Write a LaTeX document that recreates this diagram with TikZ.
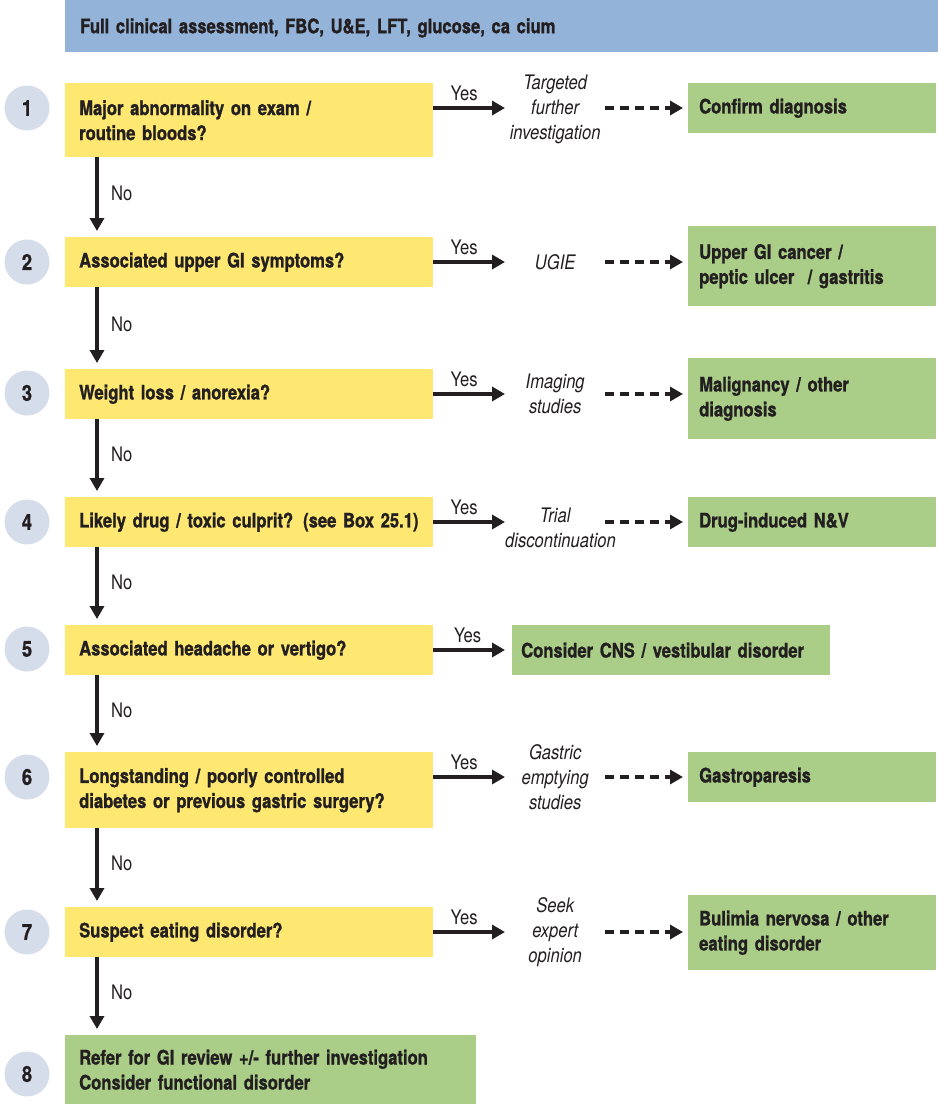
\documentclass[tikz,border=0pt]{standalone}
\usepackage{fontspec}
\setmainfont{TeX Gyre Heros}[FakeStretch=0.83, BoldFeatures={FakeBold=1.2}]
\usetikzlibrary{arrows.meta, positioning}
\definecolor{qyellow}{HTML}{FEE872}
\definecolor{rgreen}{HTML}{AACE88}
\definecolor{hblue}{HTML}{93B3D9}
\definecolor{stepgrey}{HTML}{D5DCEA}
\definecolor{ink}{HTML}{231F20}
\tikzset{
    question/.style={
        rectangle, fill=qyellow, anchor=north west,
        minimum width=368pt, minimum height=50pt,
        text width=340pt, inner xsep=14pt, inner ysep=0pt,
        font=\fontsize{20}{25}\selectfont\bfseries, align=left, text=ink
    },
    result/.style={
        rectangle, fill=rgreen, anchor=north west,
        minimum width=248pt, minimum height=50pt,
        text width=226pt, inner xsep=11pt, inner ysep=0pt,
        font=\fontsize{20}{25}\selectfont\bfseries, align=left, text=ink
    },
    header/.style={
        rectangle, fill=hblue, anchor=north west,
        minimum width=873pt, minimum height=52pt,
        text width=843pt, inner xsep=15pt, inner ysep=0pt,
        text height=15pt, text depth=1pt,
        font=\fontsize{20}{25}\selectfont\bfseries, align=left, text=ink
    },
    act/.style={
        anchor=west, text width=100pt, inner sep=0pt,
        font=\fontsize{20}{25}\selectfont\itshape, align=center, text=ink
    },
    stepnum/.style={
        circle, fill=stepgrey, minimum size=45pt, inner sep=0pt,
        font=\fontsize{22}{24}\selectfont\bfseries, text=ink
    },
    yesarrow/.style={-{Triangle[length=13pt, width=14pt]}, line width=3.4pt, draw=ink},
    noarrow/.style={yesarrow, shorten >=6pt},
    dasharrow/.style={yesarrow, dash pattern=on 9pt off 6pt, shorten >=5pt},
    yeslabel/.style={above, midway, xshift=-5pt, inner sep=6pt, font=\fontsize{20}{22}\selectfont, text=ink},
    nolabel/.style={right, pos=0.45, xshift=9pt, font=\fontsize{20}{22}\selectfont, text=ink}
}

\begin{document}
\begin{tikzpicture}[x=1pt, y=-1pt]
    \useasboundingbox (0,0) rectangle (938,1104);

    % top assessment bar
    \node[header] (h) at (65,0) {Full clinical assessment, FBC, U\&E, LFT, glucose, ca cium};

    % question column
    \node[question, minimum height=74pt] (q1) at (65,83) {Major abnormality on exam /\\routine bloods?};
    \node[question] (q2) at (65,237) {Associated upper GI symptoms?};
    \node[question] (q3) at (65,369) {Weight loss / anorexia?};
    \node[question] (q4) at (65,497) {Likely drug / toxic culprit? (see Box 25.1)};
    \node[question] (q5) at (65,625) {Associated headache or vertigo?};
    \node[question, minimum height=76pt] (q6) at (65,752) {Longstanding / poorly controlled\\diabetes or previous gastric surgery?};
    \node[question] (q7) at (65,907) {Suspect eating disorder?};
    \node[question, fill=rgreen, minimum width=411pt, text width=383pt, minimum height=69pt] (q8) at (65,1035)
        {Refer for GI review +/- further investigation\\Consider functional disorder};

    % step numbers
    \node[stepnum] (n1) at (27,108) {1};
    \node[stepnum] (n2) at (27,262) {2};
    \node[stepnum] (n3) at (27,393) {3};
    \node[stepnum] (n4) at (27,522) {4};
    \node[stepnum] (n5) at (27,649) {5};
    \node[stepnum] (n6) at (27,777) {6};
    \node[stepnum] (n7) at (27,932) {7};
    \node[stepnum] (n8) at (27,1074) {8};

    % row levels
    \coordinate (y1) at (0,108);
    \coordinate (y2) at (0,262);
    \coordinate (y3) at (0,394);
    \coordinate (y4) at (0,522);
    \coordinate (y5) at (0,650);
    \coordinate (y6) at (0,777);
    \coordinate (y7) at (0,932);

    % investigations
    \node[act] (a1) at (505,109) {Targeted\\further\\investigation};
    \node[act] (a2) at (505,262) {UGIE};
    \node[act] (a3) at (505,394) {Imaging\\studies};
    \node[act] (a4) at (505,528) {Trial\\discontinuation};
    \node[act] (a6) at (505,777) {Gastric\\emptying\\studies};
    \node[act] (a7) at (505,932) {Seek\\expert\\opinion};

    % outcomes
    \node[result] (r1) at (688,83) {Confirm diagnosis};
    \node[result, minimum height=80pt] (r2) at (688,226) {Upper GI cancer /\\peptic ulcer~ / gastritis};
    \node[result, minimum height=81pt] (r3) at (688,358) {Malignancy / other\\diagnosis};
    \node[result] (r4) at (688,497) {Drug-induced N\&V};
    \node[result, minimum width=318pt, text width=300pt, inner xsep=9pt] (r5) at (512,625) {Consider CNS / vestibular disorder};
    \node[result] (r6) at (688,752) {Gastroparesis};
    \node[result, minimum height=75pt] (r7) at (688,895) {Bulimia nervosa / other\\eating disorder};

    % no branches
    \draw[noarrow] ([xshift=32pt]q1.south west) -- node[nolabel] {No} ([xshift=32pt]q2.north west);
    \draw[noarrow] ([xshift=32pt]q2.south west) -- node[nolabel] {No} ([xshift=32pt]q3.north west);
    \draw[noarrow] ([xshift=32pt]q3.south west) -- node[nolabel] {No} ([xshift=32pt]q4.north west);
    \draw[noarrow] ([xshift=32pt]q4.south west) -- node[nolabel] {No} ([xshift=32pt]q5.north west);
    \draw[noarrow] ([xshift=32pt]q5.south west) -- node[nolabel] {No} ([xshift=32pt]q6.north west);
    \draw[noarrow] ([xshift=32pt]q6.south west) -- node[nolabel] {No} ([xshift=32pt]q7.north west);
    \draw[noarrow] ([xshift=32pt]q7.south west) -- node[nolabel] {No} ([xshift=32pt]q8.north west);

    % yes branches
    \draw[yesarrow] (q1.east |- y1) -- node[yeslabel] {Yes} (a1.west |- y1);
    \draw[dasharrow] (a1.east |- y1) -- (r1.west |- y1);
    \draw[yesarrow] (q2.east |- y2) -- node[yeslabel] {Yes} (a2.west |- y2);
    \draw[dasharrow] (a2.east |- y2) -- (r2.west |- y2);
    \draw[yesarrow] (q3.east |- y3) -- node[yeslabel] {Yes} (a3.west |- y3);
    \draw[dasharrow] (a3.east |- y3) -- (r3.west |- y3);
    \draw[yesarrow] (q4.east |- y4) -- node[yeslabel] {Yes} (a4.west |- y4);
    \draw[dasharrow] (a4.east |- y4) -- (r4.west |- y4);
    \draw[noarrow, shorten >=7pt] (q5.east |- y5) -- node[yeslabel] {Yes} (r5.west |- y5);
    \draw[yesarrow] (q6.east |- y6) -- node[yeslabel] {Yes} (a6.west |- y6);
    \draw[dasharrow] (a6.east |- y6) -- (r6.west |- y6);
    \draw[yesarrow] (q7.east |- y7) -- node[yeslabel] {Yes} (a7.west |- y7);
    \draw[dasharrow] (a7.east |- y7) -- (r7.west |- y7);
\end{tikzpicture}
\end{document}
